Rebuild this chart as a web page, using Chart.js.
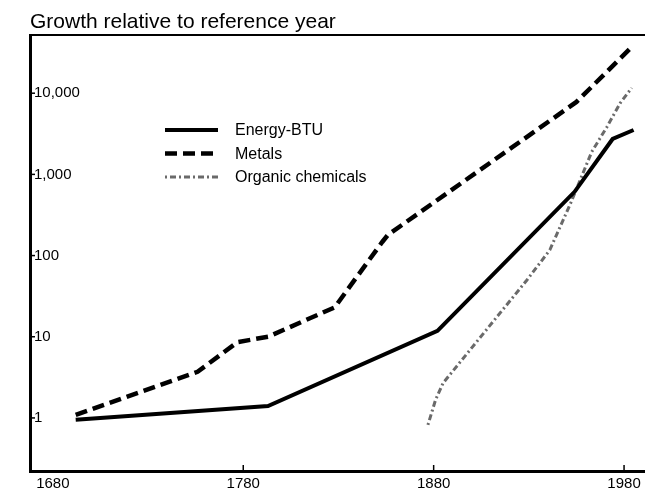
<!DOCTYPE html>
<html>
<head>
<meta charset="utf-8">
<script src="https://cdn.jsdelivr.net/npm/chart.js@4/dist/chart.umd.min.js"></script>
<style>
  html, body { margin: 0; padding: 0; background: #fff; }
</style>
</head>
<body>
<canvas id="chart" width="645" height="489"></canvas>
<script>
// values
const energyYears = [1692, 1793, 1882, 1954, 1974, 1985];
const energyValues = [0.95, 1.4, 11.8, 610, 2730, 3520];

const metalsYears = [1692, 1756, 1777, 1793, 1828, 1853, 1856, 1955, 1984];
const metalsValues = [1.09, 3.7, 8.6, 10, 23, 147, 180, 7800, 37000];

const organicYears = [1877, 1881, 1885, 1929, 1941, 1952, 1963, 1971, 1978, 1984];
const organicValues = [0.82, 1.67, 2.7, 50, 117, 445, 1890, 3840, 7570, 11600];

const yearTicks = [1680, 1780, 1880, 1980];
const growthTicks = [1, 10, 100, 1000, 10000];

const FONT = "'Liberation Sans', Arial, Helvetica, sans-serif";
Chart.defaults.font.family = FONT;
Chart.defaults.color = '#000';

function points(xs, ys) {
  return xs.map((x, i) => ({ x: x, y: ys[i] }));
}

// top rule, inward tick marks and the legend inside the plot
const frameAndLegend = {
  id: 'frameAndLegend',
  afterDraw(chart) {
    const ctx = chart.ctx;
    const a = chart.chartArea;
    const xs = chart.scales.x;
    const ys = chart.scales.y;
    ctx.save();
    ctx.strokeStyle = '#000';
    ctx.lineWidth = 2;
    ctx.beginPath();
    ctx.moveTo(a.left, a.top);
    ctx.lineTo(a.right, a.top);
    ctx.stroke();

    ctx.lineWidth = 1.5;
    yearTicks.slice(1).forEach(v => {
      const px = xs.getPixelForValue(v);
      ctx.beginPath();
      ctx.moveTo(px, a.bottom);
      ctx.lineTo(px, a.bottom - 6);
      ctx.stroke();
    });
    growthTicks.forEach(v => {
      const py = ys.getPixelForValue(v);
      ctx.beginPath();
      ctx.moveTo(a.left, py);
      ctx.lineTo(a.left + 5, py);
      ctx.stroke();
    });

    ctx.font = '16px ' + FONT;
    ctx.textBaseline = 'middle';
    ctx.fillStyle = '#000';
    chart.data.datasets.forEach((ds, i) => {
      const y = 130 + i * 23.5;
      ctx.strokeStyle = ds.borderColor;
      ctx.lineWidth = ds.borderWidth;
      ctx.setLineDash(ds.borderDash || []);
      ctx.beginPath();
      ctx.moveTo(165, y);
      ctx.lineTo(218, y);
      ctx.stroke();
      ctx.setLineDash([]);
      ctx.fillText(ds.label, 235, y + 1);
    });
    ctx.restore();
  }
};

new Chart(document.getElementById('chart'), {
  type: 'line',
  data: {
    datasets: [
      {
        label: 'Energy-BTU',
        data: points(energyYears, energyValues),
        borderColor: '#000',
        borderWidth: 4,
        pointRadius: 0,
        tension: 0
      },
      {
        label: 'Metals',
        data: points(metalsYears, metalsValues),
        borderColor: '#000',
        borderWidth: 4.5,
        borderDash: [12, 6],
        pointRadius: 0,
        tension: 0
      },
      {
        label: 'Organic chemicals',
        data: points(organicYears, organicValues),
        borderColor: '#6a6a6a',
        borderWidth: 3,
        borderDash: [2, 3, 6, 3],
        pointRadius: 0,
        tension: 0
      }
    ]
  },
  options: {
    responsive: false,
    animation: false,
    devicePixelRatio: 1,
    layout: { padding: { left: 30, top: 0, right: 0, bottom: 0 } },
    plugins: {
      legend: { display: false },
      tooltip: { enabled: false },
      title: {
        display: true,
        text: 'Growth relative to reference year',
        align: 'start',
        color: '#000',
        font: { size: 21, weight: 'normal', lineHeight: 1 },
        padding: { top: 12, bottom: 2 }
      }
    },
    scales: {
      x: {
        type: 'linear',
        min: 1668,
        max: 1991,
        afterBuildTicks: s => { s.ticks = yearTicks.map(v => ({ value: v })); },
        afterFit: s => { s.height = 18; },
        grid: { display: true, drawOnChartArea: false, drawTicks: false },
        border: { display: true, color: '#000', width: 3 },
        ticks: {
          autoSkip: false,
          maxRotation: 0,
          padding: 4,
          font: { size: 15 },
          callback: v => String(v)
        }
      },
      y: {
        type: 'logarithmic',
        min: 0.222,
        max: 52100,
        afterBuildTicks: s => { s.ticks = growthTicks.map(v => ({ value: v })); },
        afterFit: s => { s.width = 0; },
        grid: { display: true, drawOnChartArea: false, drawTicks: false },
        border: { display: true, color: '#000', width: 3 },
        ticks: {
          mirror: true,
          padding: 4,
          font: { size: 15 },
          callback: v => Number(v).toLocaleString('en-US')
        }
      }
    }
  },
  plugins: [frameAndLegend]
});
</script>
</body>
</html>
